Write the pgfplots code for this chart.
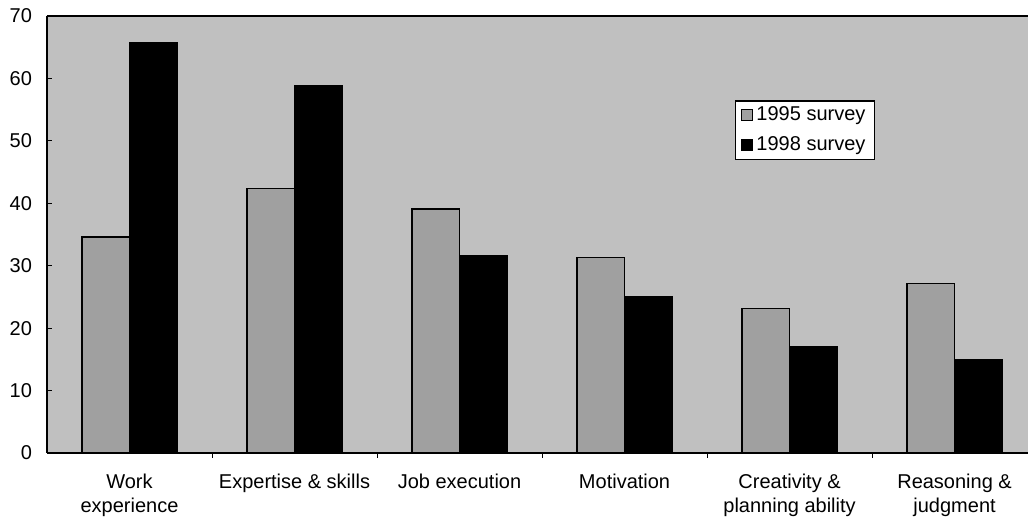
\documentclass[border=0pt]{standalone}
\usepackage{fontspec}
\setmainfont{Liberation Sans}
\usepackage{pgfplots}
\pgfplotsset{compat=1.18}
\definecolor{bg}{gray}{0.753}
\definecolor{g95}{gray}{0.627}
\begin{document}
\begin{tikzpicture}
\begin{axis}[
  scale only axis, width=490.5pt, height=218.5pt,
  at={(0,0)}, anchor=south west,
  xmin=-0.5, xmax=5.445, ymin=0, ymax=70,
  axis background/.style={fill=bg},
  axis y line*=left, axis x line*=box,
  axis line style={-, line width=0.8pt, black},
  /pgf/number format/assume math mode=true,
  ytick={0,10,...,70}, ytick pos=left, xtick pos=bottom,
  xtick={0,...,5},
  xticklabels={Work\\experience, Expertise \& skills, Job execution, Motivation, Creativity \&\\planning ability, Reasoning \&\\judgment},
  minor xtick={0.5,1.5,2.5,3.5,4.5},
  every major x tick/.append style={draw=none},
  major tick length=2.5pt, minor tick length=2.5pt,
  tick style={black, line width=0.5pt},
  tick align=inside,
  xticklabel style={align=center, font=\fontsize{10}{12}\selectfont, yshift=-4.5pt},
  yticklabel style={font=\fontsize{10}{12}\selectfont, xshift=-4pt},
  ybar, bar width=0.288,
  legend style={at={(0.701,0.808)}, anchor=north west, draw=black, line width=0.8pt, fill=white,
    font=\fontsize{10}{12}\selectfont, inner xsep=3pt, inner ysep=1.5pt, row sep=3.5pt,
    nodes={inner sep=1.5pt}},
  legend cell align=left,
  legend image code/.code={\draw[#1, draw=black, line width=0.5pt] (0pt,-2.75pt) rectangle (5.5pt,2.75pt);},
]
\addplot[fill=g95, draw=black, line width=0.6pt, bar shift=-0.144] coordinates {(0,34.6) (1,42.4) (2,39.1) (3,31.3) (4,23.2) (5,27.1)};
\addplot[fill=black, draw=black, line width=0.6pt, bar shift=0.144] coordinates {(0,65.7) (1,58.9) (2,31.6) (3,25.0) (4,17.0) (5,14.9)};
\legend{1995 survey, 1998 survey}
\end{axis}
\pgfresetboundingbox
\path[use as bounding box] (-23.5pt,-32pt) rectangle (490.5pt,226.5pt);
\end{tikzpicture}
\end{document}
